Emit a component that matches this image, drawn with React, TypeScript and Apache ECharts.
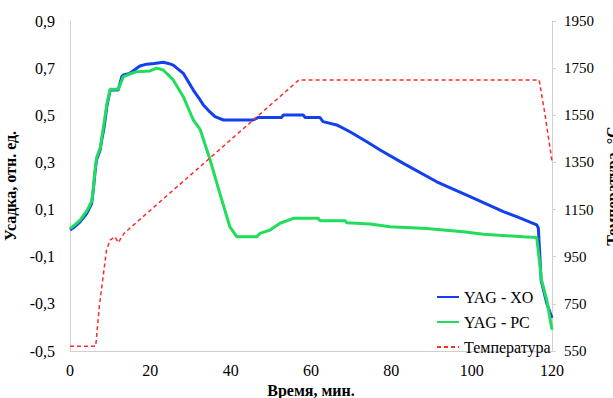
import React, { useEffect, useRef } from "react";
import * as echarts from "echarts";

const FONT = "Liberation Serif";

// Time (min) and shrinkage (rel. units) for YAG - XO
const xoTime = [0, 1.2, 2.5, 4.2, 5.4, 5.8, 6.2, 6.6, 7.5, 7.9, 8.5, 9.2, 10, 12, 12.9, 13.3, 14.9, 17.4, 19.1, 21, 23.2, 24.5, 25.7, 28.2, 30.7, 32.4, 33.2, 34.5, 36.1, 38.2, 45.6, 46.9, 52.7, 53.1, 58.1, 58.5, 62.2, 63, 66.4, 69.7, 73.9, 77.2, 83, 91.3, 99.6, 107.9, 111.2, 116.2, 116.6, 117.3, 118.7, 120];
const xoValues = [0.013, 0.027, 0.048, 0.084, 0.126, 0.183, 0.254, 0.31, 0.353, 0.395, 0.45, 0.54, 0.607, 0.607, 0.664, 0.671, 0.678, 0.709, 0.717, 0.72, 0.725, 0.72, 0.713, 0.678, 0.607, 0.565, 0.544, 0.52, 0.494, 0.48, 0.48, 0.491, 0.491, 0.501, 0.501, 0.491, 0.491, 0.473, 0.459, 0.43, 0.388, 0.353, 0.296, 0.218, 0.155, 0.091, 0.07, 0.035, 0.022, -0.2, -0.298, -0.36];

// Time (min) and shrinkage for YAG - PC
const pcTime = [0, 1.2, 2.5, 4.2, 5.4, 5.8, 6.2, 6.6, 7.5, 8.5, 9.2, 10, 12, 13.3, 14.9, 16.6, 19.9, 21.6, 23.2, 25.7, 28.2, 30.7, 32.4, 34.9, 37.3, 39.8, 41.5, 46.5, 47.3, 49.8, 52.3, 55.6, 61.8, 62.2, 68.5, 68.9, 74.7, 79.7, 88.8, 97.9, 102.9, 112.8, 116.2, 117.4, 118.7, 120];
const pcValues = [0.02, 0.035, 0.055, 0.095, 0.135, 0.19, 0.26, 0.32, 0.36, 0.47, 0.55, 0.61, 0.61, 0.664, 0.675, 0.685, 0.688, 0.7, 0.692, 0.65, 0.579, 0.48, 0.44, 0.31, 0.169, 0.027, -0.015, -0.015, -0.001, 0.013, 0.042, 0.063, 0.063, 0.053, 0.053, 0.044, 0.039, 0.027, 0.02, 0.006, -0.005, -0.015, -0.018, -0.199, -0.284, -0.41];

// Time (min) and temperature (°C)
const tempTime = [0, 6.4, 7.3, 9.1, 10, 11.2, 12, 13.5, 57, 116.8, 118.2, 120];
const tempValues = [570, 570, 740, 979, 1020, 1035, 1010, 1050, 1700, 1700, 1560, 1355];

// Axis ranges / ticks
const xTicks = [0, 20, 40, 60, 80, 100, 120];
const leftMin = -0.5;
const leftMax = 0.9;
const leftStep = 0.2;
const rightMin = 550;
const rightMax = 1950;
const rightStep = 200;

const seriesNames = ["YAG - XO", "YAG - PC", "Температура"];

export default function App() {
  const ref = useRef<HTMLDivElement>(null);
  useEffect(() => {
    if (!ref.current) return;
    const chart = echarts.init(ref.current, null, { renderer: "svg" });
    chart.setOption({
      animation: false,
      textStyle: { fontFamily: FONT },
      grid: { left: 70, right: 61, top: 21, bottom: 47, containLabel: false, outerBoundsMode: "none" },
      legend: {
        orient: "vertical",
        left: 431,
        top: 284,
        itemWidth: 22,
        itemHeight: 14,
        itemGap: 9,
        itemStyle: { opacity: 0 },
        textStyle: { fontFamily: FONT, fontSize: 16, color: "#000" },
        data: seriesNames,
      },
      xAxis: {
        type: "value",
        min: xTicks[0],
        max: xTicks[xTicks.length - 1],
        interval: xTicks[1] - xTicks[0],
        name: "Время, мин.",
        nameLocation: "middle",
        nameGap: 29,
        nameTextStyle: { fontFamily: FONT, fontSize: 16, fontWeight: "bold", color: "#000" },
        axisLine: { lineStyle: { color: "#d0d0d0", width: 1 } },
        axisTick: { show: false },
        splitLine: { show: false },
        axisLabel: { fontFamily: FONT, fontSize: 16, color: "#000", margin: 11 },
      },
      yAxis: [
        {
          type: "value",
          position: "left",
          min: 0,
          max: +(leftMax - leftMin).toFixed(4),
          interval: leftStep,
          name: "Усадка, отн. ед.",
          nameLocation: "middle",
          nameRotate: 90,
          nameGap: 44,
          nameTextStyle: { fontFamily: FONT, fontSize: 16, fontWeight: "bold", color: "#000" },
          axisLine: { show: true, lineStyle: { color: "#d0d0d0", width: 1 } },
          axisTick: { show: false },
          splitLine: { show: false },
          axisLabel: {
            fontFamily: FONT,
            fontSize: 16,
            color: "#000",
            margin: 15,
            formatter: (v: number) => (v + leftMin).toFixed(1).replace(".", ","),
          },
        },
        {
          type: "value",
          position: "right",
          min: 0,
          max: rightMax - rightMin,
          interval: rightStep,
          name: "Температура, °С",
          nameLocation: "middle",
          nameRotate: 90,
          nameGap: 40,
          nameTextStyle: { fontFamily: FONT, fontSize: 16, fontWeight: "bold", color: "#000" },
          axisLine: { show: true, lineStyle: { color: "#d0d0d0", width: 1 } },
          axisTick: { show: true, length: 4, lineStyle: { color: "#d0d0d0" } },
          splitLine: { show: false },
          axisLabel: {
            fontFamily: FONT,
            fontSize: 15,
            color: "#000",
            margin: 12,
            formatter: (v: number) => String(v + rightMin),
          },
        },
      ],
      series: [
        {
          name: seriesNames[0],
          type: "line",
          yAxisIndex: 0,
          showSymbol: false,
          symbol: "none",
          data: xoTime.map((t, i) => [t, +(xoValues[i] - leftMin).toFixed(4)]),
          lineStyle: { color: "#1240ee", width: 3 },
          itemStyle: { color: "#1240ee" },
          z: 3,
        },
        {
          name: seriesNames[1],
          type: "line",
          yAxisIndex: 0,
          showSymbol: false,
          symbol: "none",
          data: pcTime.map((t, i) => [t, +(pcValues[i] - leftMin).toFixed(4)]),
          lineStyle: { color: "#22dc5c", width: 3 },
          itemStyle: { color: "#22dc5c" },
          z: 4,
        },
        {
          name: seriesNames[2],
          type: "line",
          yAxisIndex: 1,
          showSymbol: false,
          symbol: "none",
          data: tempTime.map((t, i) => [t, tempValues[i] - rightMin]),
          lineStyle: { color: "#ff2a2a", width: 1.5, type: [4, 3] },
          itemStyle: { color: "#ff2a2a" },
          z: 5,
        },
      ],
    });
    return () => chart.dispose();
  }, []);
  return <div ref={ref} style={{ width: 613, height: 398, position: "absolute", left: 0, top: 0 }} />;
}
